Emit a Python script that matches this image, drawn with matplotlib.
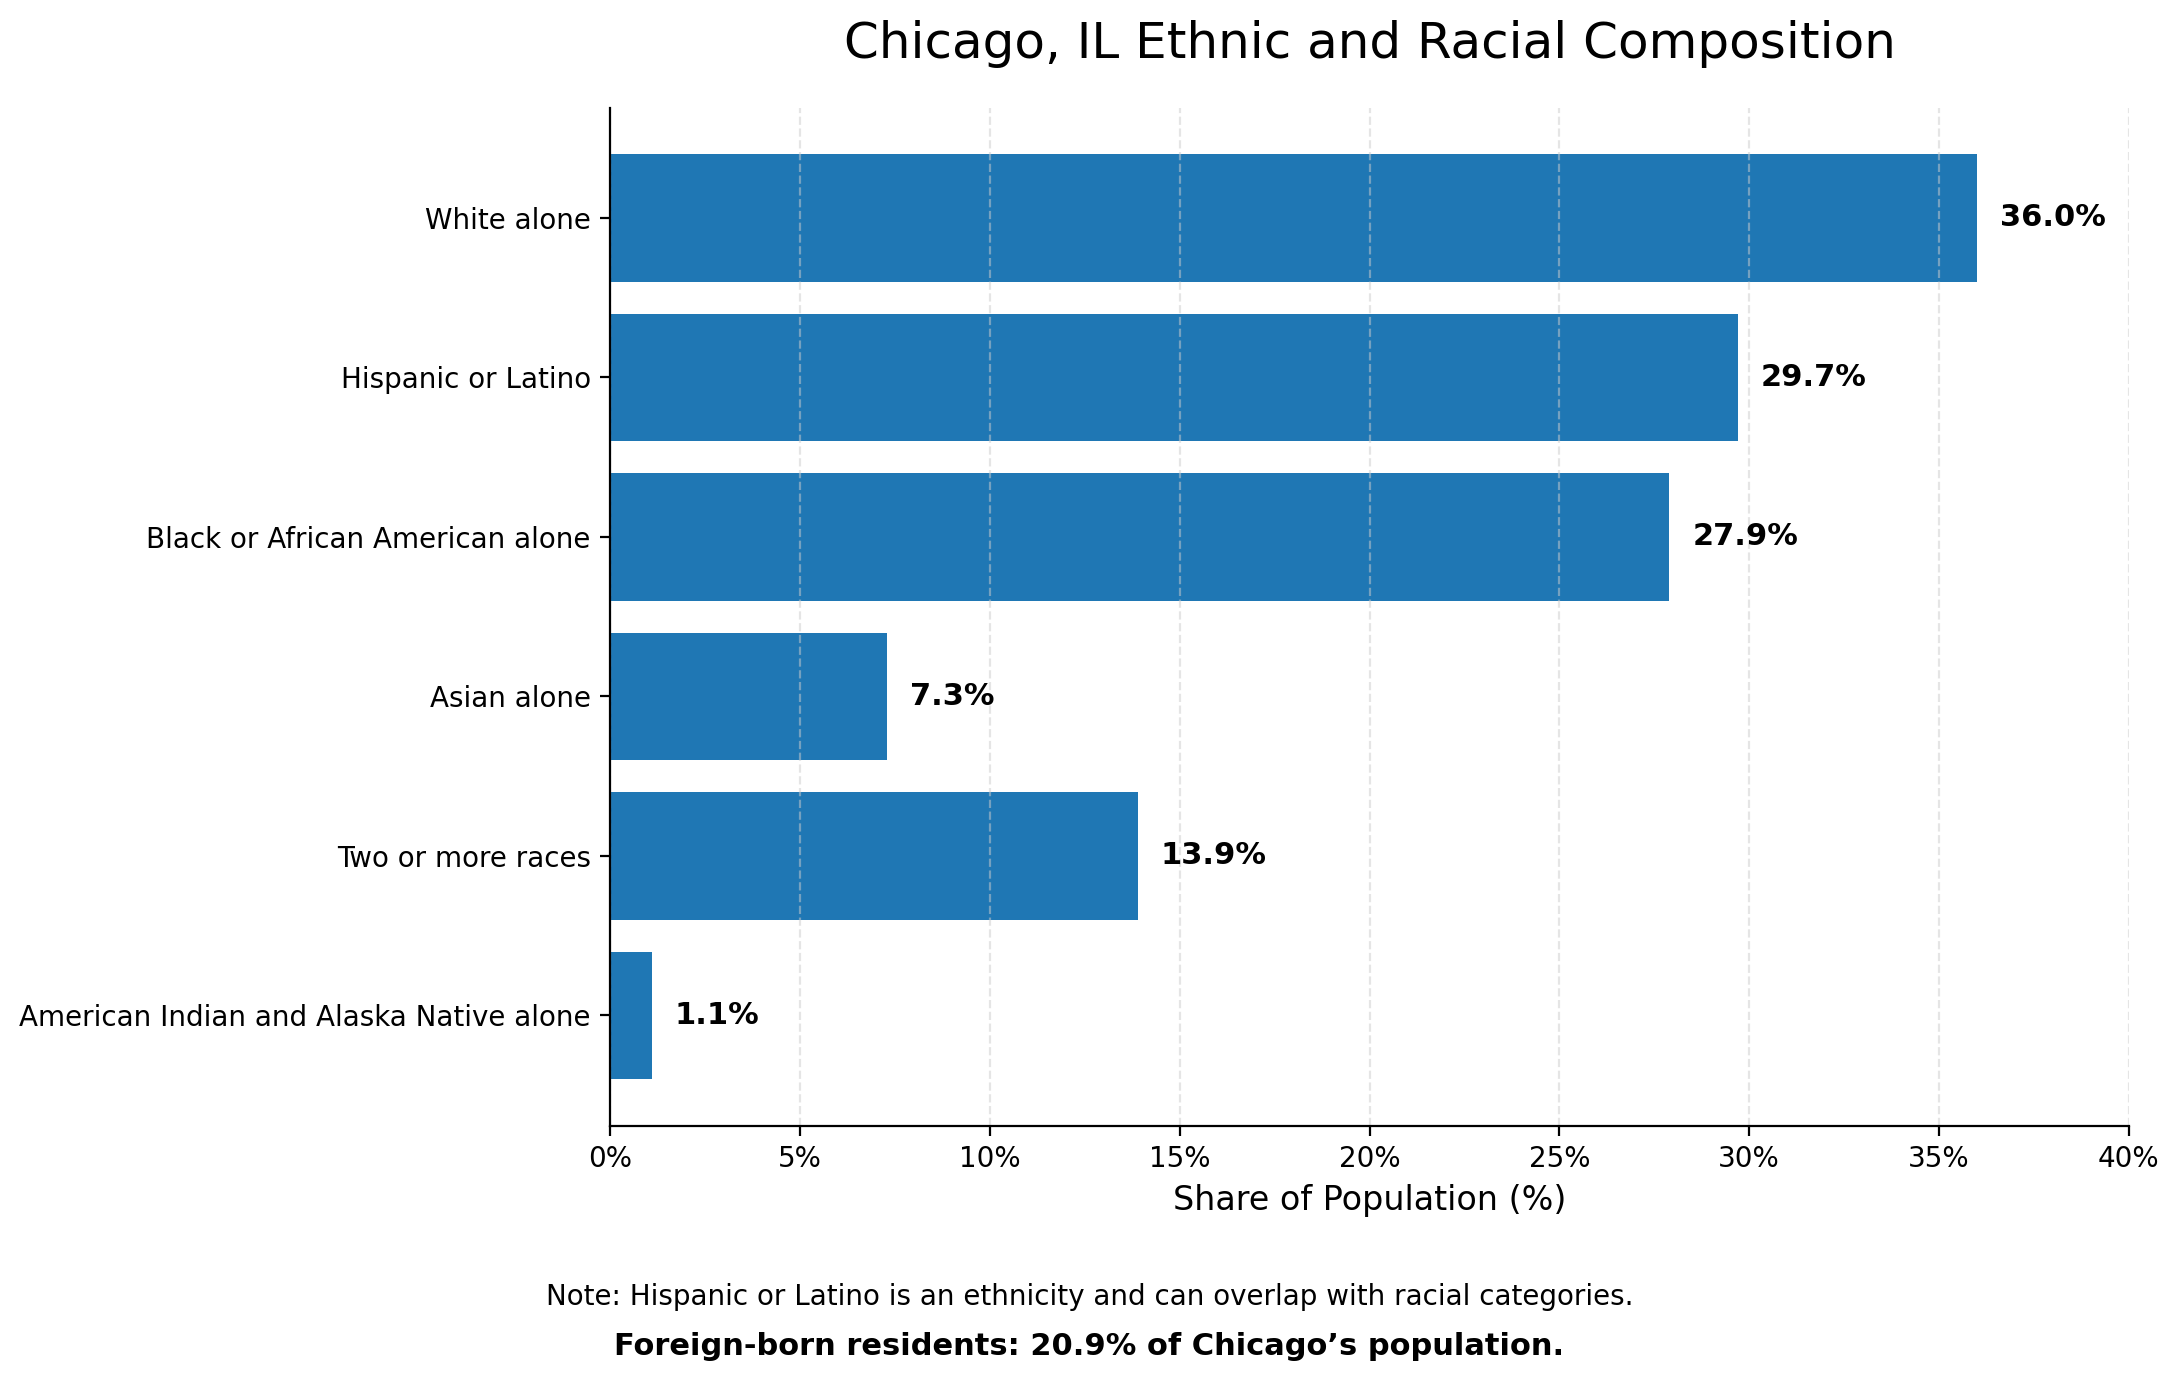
import matplotlib.pyplot as plt
from matplotlib.ticker import FuncFormatter

categories = [
    "White alone",
    "Hispanic or Latino",
    "Black or African American alone",
    "Asian alone",
    "Two or more races",
    "American Indian and Alaska Native alone",
]
shares = [36.0, 29.7, 27.9, 7.3, 13.9, 1.1]

fig, ax = plt.subplots(figsize=(10.895, 6.905), dpi=200)
fig.subplots_adjust(left=0.28, right=0.977, top=0.922, bottom=0.185)

y = list(range(len(categories)))[::-1]
ax.barh(y, shares, height=0.8, color="#1f77b4")
for yi, v in zip(y, shares):
    ax.text(v + 0.6, yi, f"{v:.1f}%", va="center", ha="left",
            fontsize=11, fontweight="bold")

ax.set_yticks(y)
ax.set_yticklabels(categories, fontsize=10)
ax.set_xlim(0, 40)
ax.set_xticks(range(0, 41, 5))
ax.xaxis.set_major_formatter(FuncFormatter(lambda x, p: f"{x:.0f}%"))
ax.tick_params(axis="x", labelsize=10)
ax.set_xlabel("Share of Population (%)", fontsize=12)
ax.set_title("Chicago, IL Ethnic and Racial Composition", fontsize=18, pad=18)
ax.grid(axis="x", linestyle="--", color="#cccccc", alpha=0.5)
ax.spines["top"].set_visible(False)
ax.spines["right"].set_visible(False)

fig.text(0.5, 0.061, "Note: Hispanic or Latino is an ethnicity and can overlap with racial categories.",
         ha="center", va="center", fontsize=10)
fig.text(0.5, 0.025, "Foreign-born residents: 20.9% of Chicago\u2019s population.",
         ha="center", va="center", fontsize=11, fontweight="bold")

fig.savefig("out.png", dpi=200)
